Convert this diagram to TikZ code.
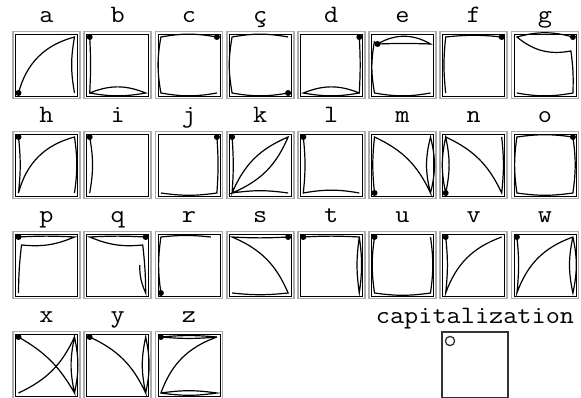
\documentclass[tikz,border=0pt]{standalone}
\usepackage{fontspec}
\usepackage{graphicx}
\tikzset{
  letterbox/.style={draw=gray!65, line width=1.8, minimum size=67, inner sep=0, outer sep=0},
  capbox/.style={draw=black!80, line width=1.2, minimum size=66, inner sep=0, outer sep=0},
  innerframe/.style={black, line width=0.8},
  letterlabel/.style={anchor=base, inner sep=0, font=\ttfamily\fontsize{25}{25}\selectfont},
  pen/.style={black, line width=1.2}
}
% caja con su letra: nombre, x, y, letra, trazos
\newcommand{\glyphbox}[5]{%
  \node[letterbox] (#1) at (#2,#3) {};
  \draw[innerframe] ([shift={(2.5,-2.5)}]#1.north west) rectangle ([shift={(-2.5,2.5)}]#1.south east);
  \node[letterlabel] (#1-lbl) at ([yshift=9]#1.north) {\scalebox{1.1}[1]{#4}};
  \begin{scope}[shift={(#1.center)}]
    \coordinate (tl) at (-28,28); \coordinate (tr) at (28,28);
    \coordinate (bl) at (-28,-28); \coordinate (br) at (28,-28);
    #5
  \end{scope}}
\newcommand{\dotat}[1]{\fill (#1) circle (3);}
\begin{document}
\begin{tikzpicture}[x=1pt, y=1pt]
  \useasboundingbox (0,0) rectangle (581,-398);

  % Fila 1
  \glyphbox{a}{46.5}{-65}{a}{%
    \draw[pen] (bl) to[bend left=30] (tr) to[bend right=10] (br); \dotat{bl}}
  \glyphbox{b}{117.7}{-65}{b}{%
    \draw[pen] (tl) to[bend left=3] (bl) to[bend left=22] (br) to[bend left=10] (bl); \dotat{tl}}
  \glyphbox{c}{188.9}{-65}{c}{%
    \draw[pen] (tr) to[bend right=10] (tl) to[bend right=10] (bl) to[bend right=10] (br); \dotat{tr}}
  \glyphbox{cc}{260.1}{-65}{ç}{%
    \draw[pen] (tr) to[bend right=10] (tl) to[bend right=10] (bl) to[bend right=10] (br); \dotat{br}}
  \glyphbox{d}{331.3}{-65}{d}{%
    \draw[pen] (tr) to[bend left=3] (br) to[bend right=22] (bl) to[bend right=10] (br); \dotat{tr}}
  \glyphbox{e}{402.5}{-65}{e}{%
    \coordinate (ea) at (-25,21); \coordinate (eb) at (28,21);
    \draw[pen] (ea) to[bend left=2] (eb) to[bend right=30] (ea);
    \draw[pen] (-28,24) to[bend right=10] (bl) to[bend right=10] (br); \dotat{ea}}
  \glyphbox{f}{473.7}{-65}{f}{%
    \draw[pen] (tr) to[bend right=6] (tl) to[bend right=6] (bl); \dotat{tr}}
  \glyphbox{g}{544.9}{-65}{g}{%
    \coordinate (ga) at (26,14);
    \draw[pen] (tr) to[bend right=15] (tl) to[bend right=25] (ga) to[bend left=5] (br) to[bend left=10] (bl); \dotat{tr}}

  % Fila 2
  \glyphbox{h}{46.5}{-165}{h}{%
    \draw[pen] (tl) to[bend left=6] (bl) to[bend left=30] (tr) to[bend left=8] (br); \dotat{tl}}
  \glyphbox{i}{117.7}{-165}{i}{%
    \draw[pen] (tl) to[bend left=10] (bl); \dotat{tl}}
  \glyphbox{j}{188.9}{-165}{j}{%
    \draw[pen] (tr) to[bend left=4] (br) to[bend left=8] (bl); \dotat{tr}}
  \glyphbox{k}{260.1}{-165}{k}{%
    \draw[pen] (tl) to[bend left=4] (bl) to[bend left=22] (tr) to[bend left=22] (bl) to[bend left=8] (br); \dotat{tl}}
  \glyphbox{l}{331.3}{-165}{l}{%
    \draw[pen] (tl) to[bend left=6] (bl) to[bend left=10] (br); \dotat{tl}}
  \glyphbox{m}{402.5}{-165}{m}{%
    \draw[pen] (bl) to[bend left=6] (tl) to[bend left=20] (br) to[bend left=14] (tr) to[bend left=14] (br); \dotat{bl}}
  \glyphbox{n}{473.7}{-165}{n}{%
    \draw[pen] (bl) to[bend left=12] (tl) to[bend left=12] (bl);
    \draw[pen] (tl) to[bend left=20] (br) to[bend right=6] (tr); \dotat{bl}}
  \glyphbox{o}{544.9}{-165}{o}{%
    \draw[pen] (tr) to[bend right=8] (tl) to[bend right=8] (bl) to[bend right=8] (br) to[bend right=8] (tr); \dotat{tr}}

  % Fila 3
  \glyphbox{p}{46.5}{-265}{p}{%
    \coordinate (pa) at (-25,20);
    \draw[pen] (tl) to[bend left=3] (tr) to[bend left=14] (pa) to[bend right=3] (bl); \dotat{tl}}
  \glyphbox{q}{117.7}{-265}{q}{%
    \coordinate (qa) at (25,20); \coordinate (qb) at (22,0);
    \draw[pen] (tr) to[bend right=3] (tl) to[bend right=14] (qa) to[bend left=3] (br) to[bend left=12] (qb); \dotat{tr}}
  \glyphbox{r}{188.9}{-265}{r}{%
    \coordinate (ra) at (22,28);
    \draw[pen] (bl) to[bend left=8] (tl) to[bend left=6] (ra); \dotat{bl}}
  \glyphbox{s}{260.1}{-265}{s}{%
    \draw[pen] (tr) to[bend left=3] (tl) to[bend left=22] (br) to[bend left=6] (bl); \dotat{tr}}
  \glyphbox{t}{331.3}{-265}{t}{%
    \draw[pen] (tl) to[bend left=3] (tr) to[bend left=8] (br) to[bend left=8] (tr); \dotat{tl}}
  \glyphbox{u}{402.5}{-265}{u}{%
    \draw[pen] (tl) to[bend right=8] (bl) to[bend right=8] (br) to[bend right=8] (tr); \dotat{tl}}
  \glyphbox{v}{473.7}{-265}{v}{%
    \draw[pen] (tl) to[bend left=6] (bl) to[bend left=25] (tr); \dotat{tl}}
  \glyphbox{w}{544.9}{-265}{w}{%
    \draw[pen] (tl) to[bend left=6] (bl) to[bend left=25] (tr) to[bend left=12] (br) to[bend left=12] (tr); \dotat{tl}}

  % Fila 4
  \glyphbox{x}{46.5}{-365}{x}{%
    \draw[pen] (tl) to[bend left=15] (br) to[bend left=12] (tr) to[bend left=12] (br);
    \draw[pen] (tr) to[bend left=20] (bl); \dotat{tl}}
  \glyphbox{y}{117.7}{-365}{y}{%
    \draw[pen] (tl) to[bend left=20] (br) to[bend left=12] (tr) to[bend left=12] (br); \dotat{tl}}
  \glyphbox{z}{188.9}{-365}{z}{%
    \draw[pen] (tl) to[bend left=5] (tr) to[bend left=5] (tl);
    \draw[pen] (tr) to[bend right=25] (bl) to[bend left=8] (br) to[bend left=8] (bl); \dotat{tl}}

  % Mayusculas
  \node[capbox] (cap) at (475,-365) {};
  \node[letterlabel] (cap-lbl) at ([yshift=9]cap.north) {\scalebox{1.1}[1]{capitalization}};
  \draw[black!80, line width=1.3] ([shift={(8,-9)}]cap.north west) circle (4.6);
\end{tikzpicture}
\end{document}
